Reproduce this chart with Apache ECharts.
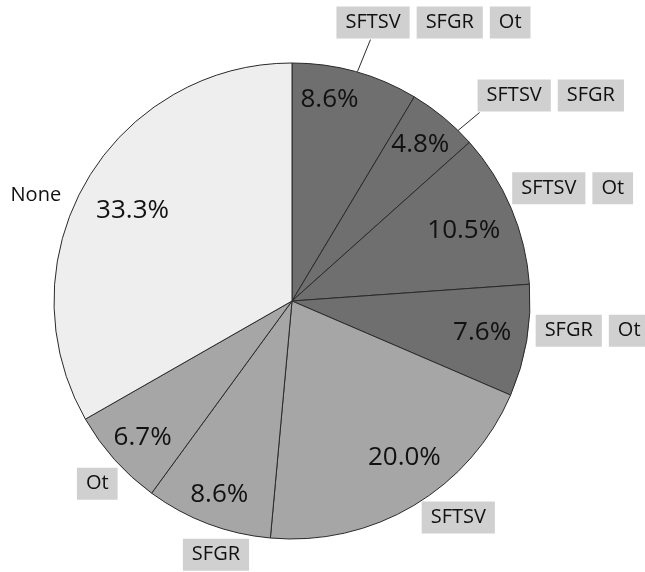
<!DOCTYPE html>
<html>
<head>
<meta charset="utf-8">
<script src="https://cdn.jsdelivr.net/npm/echarts@6/dist/echarts.min.js"></script>
<style>
  html, body { margin: 0; padding: 0; background: #fff; }
  #chart { width: 645px; height: 572px; }
</style>
</head>
<body>
<div id="chart"></div>
<script>
// Infection groups (clockwise from 12 o'clock) and their shares, in percent
const categories = ['SFTSV SFGR Ot', 'SFTSV SFGR', 'SFTSV Ot', 'SFGR Ot', 'SFTSV', 'SFGR', 'Ot', 'None'];
const shares = [8.6, 4.8, 10.5, 7.6, 20.0, 8.6, 6.7, 33.3];
// Fill tone per slice group: co-infections dark, single infections mid, none light
const tones = ['dark', 'dark', 'dark', 'dark', 'mid', 'mid', 'mid', 'light'];

const toneColor = { dark: '#6f6f6f', mid: '#a6a6a6', light: '#eeeeee' };
const CX = 292, CY = 301, R = 238;

// Outer label placement relative to the slice's edge point:
// [align, verticalAlign, dx, dy, leader start dx/dy, leader end dx/dy] (null = no leader)
const labelPlace = [
  ['left',   'bottom', -19, -32, [2, 0],  [15, -32]],
  ['left',   'bottom',  34,  -5, [12, 15], [36, -5]],
  ['left',   'bottom',   1,  -3, null, null],
  ['left',   'middle',   9, -11, null, null],
  ['left',   'top',      8,  -6, null, null],
  ['center', 'top',      8,  13, null, null],
  ['right',  'top',      3,   6, null, null],
  ['right',  'middle', -25,  13, null, null]
];
// Percentage label placement: [angle shift in degrees, fraction of radius]
const pctPlace = [
  [-4.9, 0.86], [-0.2, 0.85], [0.6, 0.78], [-0.1, 0.81],
  [-4.9, 0.81], [-0.1, 0.87], [-0.6, 0.85], [-0.6, 0.77]
];

const total = shares.reduce((a, b) => a + b, 0);
function midAngle(i) {
  let before = 0;
  for (let k = 0; k < i; k++) before += shares[k];
  return (before + shares[i] / 2) / total * 360;
}
function polarPoint(deg, r) {
  const a = deg * Math.PI / 180;
  return [CX + r * Math.sin(a), CY - r * Math.cos(a)];
}

const boxStyle = {
  fontFamily: 'Open Sans', fontSize: 20, color: '#111',
  backgroundColor: '#d0d0d0', padding: [6, 9], lineHeight: 24
};

function outerText(name) {
  if (name === 'None') return '{n|None}';
  return name.split(' ').map(t => '{b|' + t + '}').join('{g| }');
}

const pieData = categories.map((name, i) => ({
  name: name,
  value: shares[i],
  itemStyle: { color: toneColor[tones[i]] }
}));

const chart = echarts.init(document.getElementById('chart'), null, { renderer: 'canvas' });
chart.setOption({
  animation: false,
  backgroundColor: '#ffffff',
  series: [
    {
      type: 'pie',
      center: [CX, CY],
      radius: R,
      startAngle: 90,
      clockwise: true,
      avoidLabelOverlap: false,
      silent: true,
      data: pieData,
      itemStyle: { borderColor: '#2a2a2a', borderWidth: 1 },
      label: {
        show: true,
        position: 'outside',
        formatter: p => outerText(p.name),
        rich: {
          b: boxStyle,
          g: { width: 7, fontSize: 20, lineHeight: 24 },
          n: { fontFamily: 'Open Sans', fontSize: 20, color: '#111', lineHeight: 24 }
        }
      },
      labelLine: { show: true, length: 5, length2: 0, smooth: false, lineStyle: { color: '#2a2a2a', width: 1 } },
      labelLayout: function (params) {
        const i = params.dataIndex;
        const pl = labelPlace[i];
        const pts = params.labelLinePoints;
        const p0 = pts && pts[0] ? pts[0] : polarPoint(midAngle(i), R);
        // rich boxes sit a few pixels off the text block; compensate per anchor
        const vShift = pl[1] === 'bottom' ? -5 : (pl[1] === 'top' ? 6 : 1);
        const out = {
          x: p0[0] + pl[2],
          y: p0[1] + pl[3] + vShift,
          align: pl[0],
          verticalAlign: pl[1]
        };
        if (pl[4]) {
          const s = [p0[0] + pl[4][0], p0[1] + pl[4][1]];
          const e = [p0[0] + pl[5][0], p0[1] + pl[5][1]];
          out.labelLinePoints = [s, e, e];
        } else {
          out.labelLinePoints = [p0, p0, p0];
        }
        return out;
      }
    },
    {
      // transparent pie carrying the percentage labels inside the slices
      type: 'pie',
      center: [CX, CY],
      radius: R,
      startAngle: 90,
      clockwise: true,
      silent: true,
      z: 3,
      data: categories.map((name, i) => ({ name: name, value: shares[i] })),
      itemStyle: { color: 'rgba(0,0,0,0)', borderWidth: 0 },
      label: {
        show: true,
        position: 'inside',
        formatter: p => p.value.toFixed(1) + '%',
        fontFamily: 'Open Sans',
        fontSize: 26,
        color: '#111'
      },
      labelLine: { show: false },
      labelLayout: function (params) {
        const i = params.dataIndex;
        const pp = pctPlace[i];
        const pt = polarPoint(midAngle(i) + pp[0], R * pp[1]);
        return { x: pt[0], y: pt[1], align: 'center', verticalAlign: 'middle' };
      }
    }
  ]
});
</script>
</body>
</html>
